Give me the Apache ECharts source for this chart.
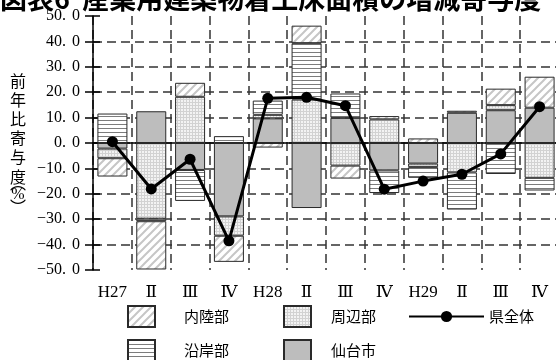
<!DOCTYPE html>
<html>
<head>
<meta charset="utf-8">
<script src="https://cdn.jsdelivr.net/npm/echarts@6/dist/echarts.min.js"></script>
<style>
  html, body { margin: 0; padding: 0; background: #fff; }
  #chart { width: 556px; height: 360px; }
</style>
</head>
<body>
<div id="chart"></div>
<script>
// Quarters (fiscal years H27–H29)
const categories = ['H27', 'Ⅱ', 'Ⅲ', 'Ⅳ', 'H28', 'Ⅱ', 'Ⅲ', 'Ⅳ', 'H29', 'Ⅱ', 'Ⅲ', 'Ⅳ'];

// Contribution by area (percentage points)
const sendai  = [-2.2, 12.5, -10.6, -28.9, 9.7, -25.6, 9.9, -10.8, -8.1, 11.9, 12.9, 13.9];   // 仙台市
const shuhen  = [-3.8, -29.8, 18.2, -7.6, 1.4, 17.1, -8.9, 9.3, -1.4, -11.6, 2.0, -13.7];    // 周辺部
const engan   = [11.6, -1.0, -12.2, 2.7, 5.6, 22.2, 9.6, -8.9, -4.2, -14.6, -12.2, -5.0];    // 沿岸部
const nairiku = [-7.2, -19.0, 5.5, -10.3, -1.8, 6.9, -5.1, 1.3, 1.8, 0.8, 6.5, 12.2];        // 内陸部

// Whole prefecture (%)
const kenzentai = [0.5, -18.1, -6.4, -38.5, 17.6, 18.0, 14.7, -18.2, -15.0, -12.3, -4.3, 14.3];

const yMin = -50, yMax = 50, yStep = 10;

const SERIF = '"Liberation Serif", "DejaVu Serif", serif';
const JP = '"Noto Sans CJK JP", sans-serif';

function makePattern(w, h, draw) {
  const c = document.createElement('canvas');
  c.width = w; c.height = h;
  const ctx = c.getContext('2d');
  draw(ctx, w, h);
  return { image: c, repeat: 'repeat' };
}

// diagonal hatch
const hatchFill = makePattern(8, 8, (ctx) => {
  ctx.fillStyle = '#ffffff'; ctx.fillRect(0, 0, 8, 8);
  ctx.strokeStyle = '#c6c6c6'; ctx.lineWidth = 2;
  ctx.beginPath();
  ctx.moveTo(-2, 2); ctx.lineTo(2, -2);
  ctx.moveTo(-2, 10); ctx.lineTo(10, -2);
  ctx.moveTo(6, 10); ctx.lineTo(10, 6);
  ctx.stroke();
});
// fine grid dots
const dotFill = makePattern(3, 3, (ctx) => {
  ctx.fillStyle = '#f3f3f3'; ctx.fillRect(0, 0, 3, 3);
  ctx.fillStyle = '#d2d2d2';
  ctx.fillRect(0, 0, 3, 1);
  ctx.fillRect(0, 0, 1, 3);
});
// horizontal rules
const lineFill = makePattern(4, 4, (ctx) => {
  ctx.fillStyle = '#ffffff'; ctx.fillRect(0, 0, 4, 4);
  ctx.fillStyle = '#7c7c7c'; ctx.fillRect(0, 0, 4, 1);
});
const grayFill = '#bdbdbd';

function barSeries(name, data, fill) {
  return {
    name, type: 'bar', stack: 'area', data,
    barWidth: 30,
    itemStyle: { color: fill, borderColor: '#2a2a2a', borderWidth: 1 },
    emphasis: { disabled: true },
    z: 2
  };
}

// one legend entry per box, laid out in two rows
function legendItem(name, left, top, textGap) {
  return {
    data: [name], orient: 'horizontal', left, top, padding: 0,
    itemWidth: 27, itemHeight: 21, icon: 'rect', selectedMode: false,
    textStyle: { fontFamily: JP, fontSize: 15, color: '#000', padding: [0, 0, 0, textGap] }
  };
}

const chart = echarts.init(document.getElementById('chart'), null, { renderer: 'canvas' });

chart.setOption({
  animation: false,
  backgroundColor: '#ffffff',
  grid: { left: 93, top: 16, width: 466, height: 254, outerBoundsMode: 'none', containLabel: false },
  graphic: [
    {
      type: 'text', x: 0, y: -15,
      style: { text: '図表6  産業用建築物着工床面積の増減寄与度', fontSize: 27, fontWeight: 'bold', fontFamily: JP, fill: '#000' }
    },
    {
      type: 'text', x: 18, y: 71,
      style: { text: '前\n年\n比\n寄\n与\n度', fontSize: 16, fontFamily: JP, fill: '#000', align: 'center', verticalAlign: 'top', lineHeight: 19.2 }
    },
    {
      type: 'text', x: 18, y: 183,
      style: { text: '︵', fontSize: 16, fontFamily: JP, fill: '#000', align: 'center', verticalAlign: 'middle' }
    },
    {
      type: 'text', x: 18, y: 195,
      style: { text: '%', fontSize: 16, fontFamily: SERIF, fill: '#000', align: 'center', verticalAlign: 'middle' }
    },
    {
      type: 'text', x: 18, y: 207,
      style: { text: '︶', fontSize: 16, fontFamily: JP, fill: '#000', align: 'center', verticalAlign: 'middle' }
    }
  ],
  legend: [
    legendItem('内陸部', 127, 305, 24),
    legendItem('周辺部', 283, 305, 15),
    legendItem('沿岸部', 127, 339, 24),
    legendItem('仙台市', 283, 339, 15),
    {
      data: ['県全体'], orient: 'horizontal', left: 408, top: 309, padding: 0,
      itemWidth: 75, itemHeight: 14, selectedMode: false,
      textStyle: { fontFamily: JP, fontSize: 15, color: '#000' }
    }
  ],
  xAxis: [
    {
      type: 'category', data: categories, position: 'bottom',
      axisLine: { show: false, onZero: false },
      axisTick: { show: false },
      axisLabel: { interval: 0, margin: 14, fontFamily: SERIF, fontSize: 17, color: '#000' },
      splitLine: { show: true, interval: 0, lineStyle: { color: '#333', width: 1.5, type: [9, 5] } }
    },
    {
      // zero line across the plot
      type: 'category', data: categories, position: 'bottom',
      axisLine: { show: true, onZero: true, onZeroAxisIndex: 0, lineStyle: { color: '#000', width: 1.5 } },
      axisTick: { show: false }, axisLabel: { show: false }, splitLine: { show: false }
    }
  ],
  yAxis: [
    {
      type: 'value', min: yMin, max: yMax, interval: yStep,
      axisLine: { show: true, lineStyle: { color: '#000', width: 1.5 } },
      axisTick: { show: true, length: 8, lineStyle: { color: '#000', width: 1.5 } },
      axisLabel: {
        margin: 13, color: '#000', fontFamily: SERIF, fontSize: 16,
        formatter: (v) => {
          const parts = Math.abs(v).toFixed(1).split('.');
          return (v < 0 ? '−' : '') + parts[0] + '{p|.}' + parts[1];
        },
        rich: { p: { fontFamily: SERIF, fontSize: 16, color: '#000', padding: [0, 6, 0, 0] } }
      },
      splitLine: { show: true, showMinLine: false, showMaxLine: false, lineStyle: { color: '#333', width: 1.5, type: [9, 5] } }
    },
    {
      // inner half of the cross ticks
      type: 'value', min: yMin, max: yMax, interval: yStep, position: 'left',
      axisLine: { show: false },
      axisTick: { show: true, inside: true, length: 7, lineStyle: { color: '#000', width: 1.5 } },
      axisLabel: { show: false }, splitLine: { show: false }
    }
  ],
  series: [
    barSeries('仙台市', sendai, grayFill),
    barSeries('周辺部', shuhen, dotFill),
    barSeries('沿岸部', engan, lineFill),
    barSeries('内陸部', nairiku, hatchFill),
    {
      name: '県全体', type: 'line', data: kenzentai,
      symbol: 'circle', symbolSize: 11,
      lineStyle: { color: '#000', width: 3 },
      itemStyle: { color: '#000' },
      emphasis: { disabled: true },
      z: 10
    }
  ]
});
</script>
</body>
</html>
